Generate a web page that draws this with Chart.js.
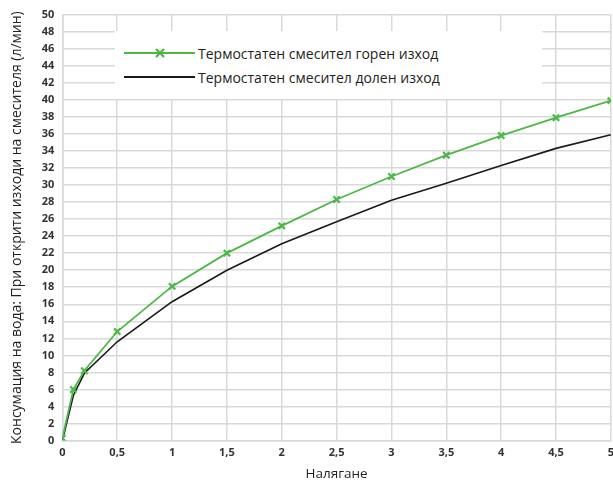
<!DOCTYPE html>
<html>
<head>
<meta charset="utf-8">
<script src="https://cdn.jsdelivr.net/npm/chart.js@4.4.0/dist/chart.umd.min.js"></script>
<style>
  html, body { margin: 0; padding: 0; background: #fff; }
  #wrap { position: relative; width: 613px; height: 480px; overflow: hidden; }
  #legend {
    position: absolute; left: 115px; top: 31px; width: 427px; height: 68px;
    background: #fff; font-family: 'Open Sans', sans-serif; font-size: 14px; color: #231f20;
  }
  #legend .row { position: absolute; left: 9px; height: 20px; display: flex; align-items: center; }
  #legend svg { display: block; margin-right: 2px; }
</style>
</head>
<body>
<div id="wrap">
  <canvas id="chart" width="620" height="480"></canvas>
  <div id="legend"></div>
</div>
<script>
// ===== Консумация на вода — термостатен смесител =====
const pressure = [0, 0.1, 0.2, 0.5, 1, 1.5, 2, 2.5, 3, 3.5, 4, 4.5, 5];
const upperOutlet = [0.3, 6.0, 8.2, 12.8, 18.1, 22.0, 25.2, 28.3, 31.0, 33.5, 35.8, 37.9, 39.9];
const lowerOutlet = [0, 5.3, 7.9, 11.6, 16.3, 20.0, 23.1, 25.7, 28.2, 30.2, 32.3, 34.3, 35.9];
const seriesNames = ['Термостатен смесител горен изход', 'Термостатен смесител долен изход'];

const GREEN = '#4db848';
const BLACK = '#1a1a1a';
const GRID = '#d9d9d9';
const fmt = v => String(v).replace('.', ',');
const tickFont = { family: "'Open Sans', sans-serif", size: 11, weight: 'bold' };

// платното е малко по-широко, за да се отреже етикетът "5" като в оригинала
new Chart(document.getElementById('chart'), {
  type: 'line',
  data: {
    datasets: [
      {
        label: seriesNames[0],
        data: pressure.map((x, i) => ({ x, y: upperOutlet[i] })),
        borderColor: GREEN, backgroundColor: GREEN, borderWidth: 1.8,
        pointStyle: 'crossRot', pointRadius: 4.5, pointBorderWidth: 2.2,
        pointBorderColor: GREEN, tension: 0
      },
      {
        label: seriesNames[1],
        data: pressure.map((x, i) => ({ x, y: lowerOutlet[i] })),
        borderColor: BLACK, borderWidth: 1.6, pointRadius: 0, tension: 0
      }
    ]
  },
  options: {
    responsive: false, animation: false,
    layout: { padding: { left: 9, right: 0, top: 8, bottom: -2 } },
    plugins: { legend: { display: false }, tooltip: { enabled: false } },
    scales: {
      x: {
        type: 'linear', min: 0, max: 5,
        grid: { color: GRID, lineWidth: 1.5, drawTicks: false },
        border: { color: GRID, width: 1.5 },
        ticks: { stepSize: 0.5, autoSkip: false, maxRotation: 0, padding: 6, color: '#333', font: tickFont, callback: fmt },
        title: { display: true, text: 'Налягане', color: '#231f20', padding: { top: 0, bottom: 0 },
                 font: { family: "'Open Sans', sans-serif", size: 13.5 } }
      },
      y: {
        min: 0, max: 50,
        grid: { color: GRID, lineWidth: 1.5, drawTicks: false },
        border: { color: GRID, width: 1.5 },
        ticks: { stepSize: 2, autoSkip: false, padding: 8, color: '#333', font: tickFont, callback: fmt },
        title: { display: true, text: 'Консумация на вода: При открити изходи на смесителя (л/мин)', color: '#231f20',
                 padding: { top: 0, bottom: 8 }, font: { family: "'Open Sans', sans-serif", size: 14 } }
      }
    }
  }
});

// легенда върху графиката
const legendEl = document.getElementById('legend');
legendEl.innerHTML = `
  <div class="row" style="top:12px">
    <svg width="72" height="20"><line x1="0" y1="10" x2="71" y2="10" stroke="${GREEN}" stroke-width="1.8"/>
      <path d="M32 6 L40 14 M40 6 L32 14" stroke="${GREEN}" stroke-width="2.4"/></svg>
    <span>${seriesNames[0]}</span>
  </div>
  <div class="row" style="top:36px">
    <svg width="72" height="20"><line x1="0" y1="10" x2="71" y2="10" stroke="${BLACK}" stroke-width="1.8"/></svg>
    <span>${seriesNames[1]}</span>
  </div>`;
</script>
</body>
</html>
